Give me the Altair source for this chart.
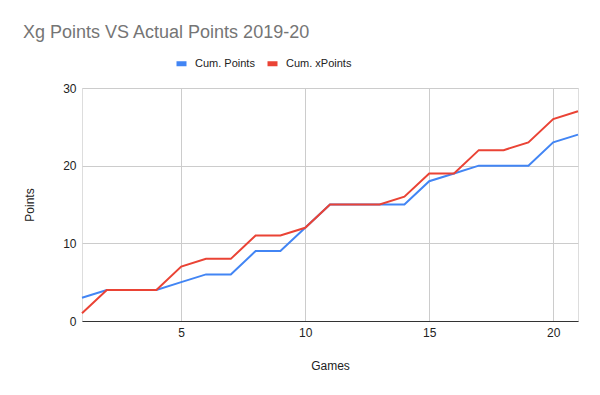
import altair as alt
import pandas as pd

games = list(range(1, 22))
cum_points = [3, 4, 4, 4, 5, 6, 6, 9, 9, 12, 15, 15, 15, 15, 18, 19, 20, 20, 20, 23, 24]
cum_xpoints = [1, 4, 4, 4, 7, 8, 8, 11, 11, 12, 15, 15, 15, 16, 19, 19, 22, 22, 23, 26, 27]
series = ["Cum. Points", "Cum. xPoints"]
colors = ["#4285F4", "#EA4335"]
x_ticks = [5, 10, 15, 20]
y_ticks = [0, 10, 20, 30]

df = pd.DataFrame({"Games": games, series[0]: cum_points, series[1]: cum_xpoints})
long = df.melt(id_vars="Games", var_name="Series", value_name="Points")

FONT = "Arial, Liberation Sans, sans-serif"

chart = (
    alt.Chart(long)
    .mark_line(strokeWidth=2)
    .encode(
        x=alt.X(
            "Games:Q",
            scale=alt.Scale(domain=[1, 21], nice=False, zero=False),
            axis=alt.Axis(
                title="Games",
                values=x_ticks,
                grid=True,
                gridColor="#CCCCCC",
                domain=True,
                domainColor="#333333",
                domainWidth=1,
                ticks=False,
                labelPadding=6,
                titlePadding=22,
                labelFontSize=12,
                titleFontSize=12,
                labelColor="#222222",
                titleColor="#222222",
                titleFontWeight="normal",
                labelFont=FONT,
                titleFont=FONT,
            ),
        ),
        y=alt.Y(
            "Points:Q",
            scale=alt.Scale(domain=[0, 30], nice=False),
            axis=alt.Axis(
                title="Points",
                values=y_ticks,
                grid=True,
                gridColor="#CCCCCC",
                domain=False,
                ticks=False,
                labelPadding=6,
                titlePadding=26,
                labelFontSize=12,
                titleFontSize=12,
                labelColor="#222222",
                titleColor="#222222",
                titleFontWeight="normal",
                labelFont=FONT,
                titleFont=FONT,
            ),
        ),
        color=alt.Color(
            "Series:N",
            scale=alt.Scale(domain=series, range=colors),
            legend=alt.Legend(
                title=None,
                orient="none",
                direction="horizontal",
                legendX=92,
                legendY=-32,
                symbolType="stroke",
                symbolSize=100,
                symbolStrokeWidth=5,
                labelFontSize=11,
                labelColor="#222222",
                labelFont=FONT,
                labelOffset=6,
                columnPadding=2,
            ),
        ),
    )
    .properties(
        width=496,
        height=233,
        autosize=alt.AutoSizeParams(type="none"),
        padding={"left": 74, "top": 80, "right": 14, "bottom": 66},
        title=alt.TitleParams(
            "Xg Points VS Actual Points 2019-20",
            anchor="start",
            frame="group",
            dx=-59,
            offset=14,
            fontSize=18,
            fontWeight="normal",
            color="#757575",
            font=FONT,
        ),
    )
    .configure_view(stroke=None)
    .configure(background="white")
)

chart.save("out.html", embed_options={"renderer": "svg", "actions": False})
